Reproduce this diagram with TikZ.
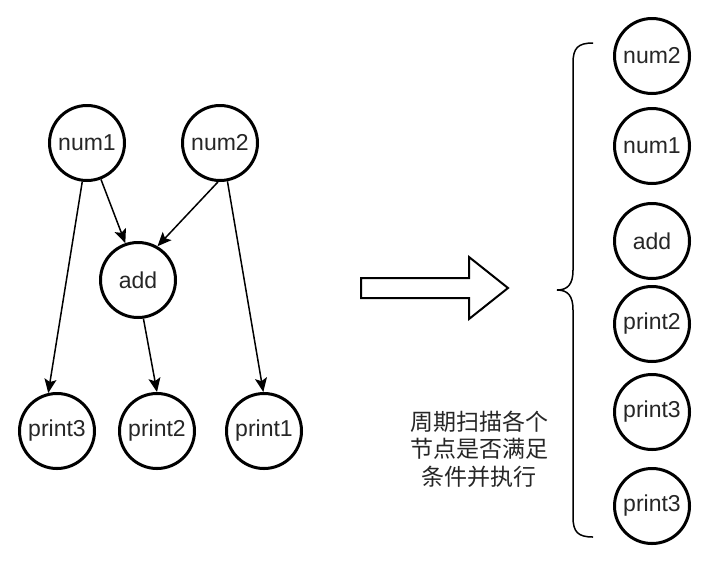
\documentclass[tikz,border=0pt]{standalone}
\usepackage{fontspec}
\setmainfont{Liberation Sans}
\newfontfamily\cjk{Noto Sans CJK SC}
\usetikzlibrary{arrows.meta}
\begin{document}
\begin{tikzpicture}[x=1pt,y=-1pt,
  cnode/.style={circle,draw=black,line width=3pt,minimum size=75pt,inner sep=0pt,
    font=\fontsize{23}{26}\selectfont,text=black!85},
  conn/.style={line width=1.5pt,-{Stealth[length=14pt,width=12pt,inset=3pt]}},
  bigarrow/.style={draw=black,line width=2pt,fill=white,line join=miter},
  bracestyle/.style={draw=black,line width=1.5pt}]
\fill[white] (0,0) rectangle (708,560);
\useasboundingbox (0,0) rectangle (708,560);
% left graph
\node[cnode] (n1) at (87,143) {num1};
\node[cnode] (n2) at (220,143) {num2};
\node[cnode] (add) at (138,280) {add};
\node[cnode] (p3) at (57,431) {print3};
\node[cnode] (p2) at (157,431) {print2};
\node[cnode] (p1) at (264,431) {print1};
\draw[conn] (n1.263) -- (p3.103);
\draw[conn] (n1.291) -- (add.109);
\draw[conn] (n2.267) -- (add.60);
\draw[conn] (n2.281) -- (p1.91);
\draw[conn] (add.278) -- (p2.90);
% hollow arrow
\draw[bigarrow] (361,278) -- (469,278) -- (469,257) -- (508,288) -- (469,319) -- (469,298) -- (361,298) -- cycle;
% text
\node[font=\cjk\fontsize{23}{27.5}\selectfont,align=center,text=black!85] (txt) at (479,449) {周期扫描各个\\节点是否满足\\条件并执行};
% brace
\draw[bracestyle] (593,43) .. controls (578,43) and (573,48) .. (573,63) -- (573,270)
  .. controls (573,284) and (568,290) .. (557,290)
  .. controls (568,290) and (573,296) .. (573,310) -- (573,517)
  .. controls (573,532) and (578,537) .. (593,537);
% right column
\node[cnode] (r1) at (652,56) {num2};
\node[cnode] (r2) at (652,146) {num1};
\node[cnode] (r3) at (652,241) {add};
\node[cnode] (r4) at (652,324) {print2};
\node[cnode] (r5) at (652,412) {print3};
\node[cnode] (r6) at (652,506) {print3};
\end{tikzpicture}
\end{document}
